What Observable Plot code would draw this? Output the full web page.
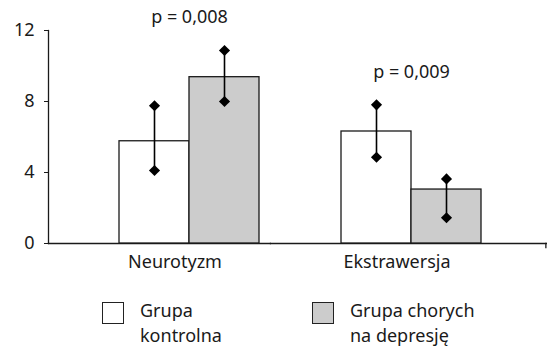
<!DOCTYPE html>
<html><head><meta charset="utf-8">
<script src="https://cdn.jsdelivr.net/npm/d3@7"></script>
<script src="https://cdn.jsdelivr.net/npm/@observablehq/plot@0.6"></script>
<style>
body{margin:0;background:#fff;font-family:"Noto Sans",sans-serif;}
#wrap{position:relative;width:547px;height:351px;overflow:hidden;}
.lg{position:absolute;font-size:18px;line-height:25px;color:#1a1a1a;white-space:nowrap;}
.sw{position:absolute;width:20px;height:20px;border:1.3px solid #222;box-sizing:content-box;}
</style></head><body>
<div id="wrap"><div id="chart"></div><div id="legend"></div></div>
<script>
const categories = ["Neurotyzm", "Ekstrawersja"];
const groups = ["Grupa kontrolna", "Grupa chorych na depresję"];
const legendLines = [["Grupa", "kontrolna"], ["Grupa chorych", "na depresję"]];
const groupColors = ["#ffffff", "#cccccc"];
const controlMean = [5.76, 6.31];
const controlLow = [4.11, 4.86];
const controlHigh = [7.76, 7.81];
const depressedMean = [9.37, 3.04];
const depressedLow = [8.0, 1.45];
const depressedHigh = [10.87, 3.64];
const pValues = ["p = 0,008", "p = 0,009"];
const yTicks = [0, 4, 8, 12];

const rows = [];
categories.forEach((c, i) => {
  rows.push({cat: c, group: groups[0], mean: controlMean[i], low: controlLow[i], high: controlHigh[i]});
  rows.push({cat: c, group: groups[1], mean: depressedMean[i], low: depressedLow[i], high: depressedHigh[i]});
});
const whiskers = rows.flatMap(d => [{...d, v: d.low}, {...d, v: d.high}]);
const labels = categories.map((c, i) => ({
  cat: c, text: pValues[i], group: groups[0],
  top: d3.max(rows.filter(r => r.cat === c), r => r.high)
}));

const W = 547, H = 285, ML = 48, MR = 1, MT = 30, MB = 42;
const fxPadInner = 0.04, fxPadOuter = 0.1416;
const fxStep = (W - ML - MR) / (categories.length - fxPadInner + 2 * fxPadOuter);
const fxBand = fxStep * (1 - fxPadInner);
const gapRight = fxStep - fxBand;
const lastRight = (W - MR) - (ML + fxStep * (categories.length - 1) + fxBand);
const frameH = H - MT - MB;

const chart = Plot.plot({
  width: W, height: H,
  marginLeft: ML, marginRight: MR, marginTop: MT, marginBottom: MB,
  style: {fontFamily: "Noto Sans", fontSize: "18px", color: "#1a1a1a", background: "#fff"},
  fx: {domain: categories, paddingInner: fxPadInner, paddingOuter: fxPadOuter, align: 0, label: null},
  x: {domain: groups, paddingInner: 0, paddingOuter: 0.5106, align: 0.972, axis: null},
  y: {domain: [0, 12]},
  color: {domain: groups, range: groupColors},
  marks: [
    Plot.frame({anchor: "bottom", facetAnchor: "left", insetRight: -gapRight, stroke: "#1a1a1a", strokeWidth: 1.3}),
    Plot.frame({anchor: "bottom", facetAnchor: "right", insetRight: -lastRight, stroke: "#1a1a1a", strokeWidth: 1.3}),
    Plot.frame({anchor: "right", facetAnchor: "right", insetRight: -lastRight + 0.5, insetTop: frameH, insetBottom: -4, stroke: "#1a1a1a", strokeWidth: 1.3}),
    Plot.barY(rows, {fx: "cat", x: "group", y: "mean", fill: "group", stroke: "#1a1a1a", strokeWidth: 1.3}),
    Plot.ruleX(rows, {fx: "cat", x: "group", y1: "low", y2: "high", stroke: "#000", strokeWidth: 1.6}),
    Plot.dot(whiskers, {fx: "cat", x: "group", y: "v", symbol: "diamond2", r: 5, fill: "#000", stroke: null}),
    Plot.text(labels, {fx: "cat", x: "group", y: "top", text: "text", dx: 35, dy: -33, fontSize: 18, fill: "#1a1a1a"}),
    Plot.axisFx({anchor: "bottom", tickSize: 0, tickPadding: 12, dx: 20, label: null, fontSize: 18}),
    Plot.axisY({ticks: yTicks, tickSize: 4, tickPadding: 10, label: null, fontSize: 18, facetAnchor: "left"}),
    Plot.frame({anchor: "left", facet: "super", stroke: "#1a1a1a", strokeWidth: 1.3})
  ]
});
document.getElementById("chart").appendChild(chart);

const legend = document.getElementById("legend");
const swLeft = [102, 312];
const txtLeft = [140, 350];
groups.forEach((g, i) => {
  const sw = document.createElement("div");
  sw.className = "sw";
  sw.style.left = swLeft[i] + "px";
  sw.style.top = "302px";
  sw.style.background = groupColors[i];
  legend.appendChild(sw);
  const t = document.createElement("div");
  t.className = "lg";
  t.style.left = txtLeft[i] + "px";
  t.style.top = "298px";
  t.innerHTML = legendLines[i].join("<br>");
  legend.appendChild(t);
});
</script>
</body></html>
